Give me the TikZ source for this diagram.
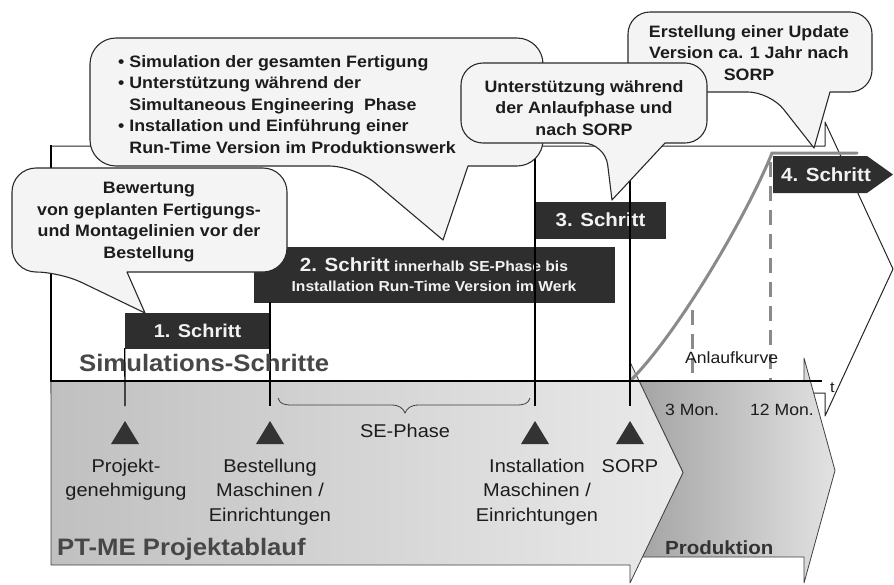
\documentclass[tikz,border=0pt]{standalone}
\usepackage{fontspec}
\setmainfont{Liberation Sans}[FakeStretch=1.08]
\definecolor{outl}{HTML}{2A2A2A}
\definecolor{callfill}{HTML}{F4F4F4}
\definecolor{boxc}{HTML}{2E2E2E}
\definecolor{boxtxt}{HTML}{F2F2F2}
\definecolor{txtdark}{HTML}{1C1C1C}
\definecolor{trifill}{HTML}{333333}
\definecolor{ptL}{HTML}{C0C0C0}
\definecolor{ptR}{HTML}{EAEAEA}
\definecolor{prodL}{HTML}{A4A4A4}
\definecolor{prodR}{HTML}{E2E2E2}
\definecolor{curvec}{HTML}{8A8A8A}
\definecolor{titlegray}{HTML}{474747}
\newcommand{\myfs}[2]{\fontsize{#1}{#2}\selectfont}
\begin{document}
\begin{tikzpicture}[x=1pt,y=-1pt,
  callout/.style={draw=outl, fill=callfill, line width=1.1pt, line join=round},
  ctext/.style={inner sep=0pt, anchor=north, align=center, text=txtdark, font=\bfseries\myfs{16.5}{21.5}},
  darkbox/.style={fill=boxc, draw=boxc, inner sep=0pt, text=boxtxt, font=\bfseries\myfs{19}{22}},
  marker/.style={fill=trifill},
  lbl/.style={inner sep=0pt, anchor=north, align=center, text=txtdark, font=\myfs{18.5}{24.3}},
  small/.style={inner sep=0pt, anchor=base west, text=txtdark, font=\myfs{16.3}{19}},
  vline/.style={draw=black, line width=1.3pt},
  dashc/.style={draw=curvec, line width=3pt, dash pattern=on 15pt off 9pt},
  bigtitle/.style={inner sep=0pt, anchor=base west, text=titlegray, font=\bfseries\myfs{23.8}{26}}
]
\useasboundingbox (0,0) rectangle (894,584);

% upper white chevron frame
\draw[fill=white, draw=black!85, line width=1pt, line join=round]
  (51,146) -- (825,146) -- (825,122) -- (893,269) -- (825,416) -- (825,393) -- (51,393) -- cycle;
\draw[line width=2pt] (51,145) -- (51,382);

% Produktion arrow
\shadedraw[left color=prodL, right color=prodR, draw=black!75, line width=0.8pt, line join=round]
  (639,381) -- (804,381) -- (804,358) -- (835,470.5) -- (804,583) -- (804,557) -- (642,557) -- (683,472.5) -- cycle;
% PT-ME arrow
\shadedraw[left color=ptL, right color=ptR, draw=black!75, line width=0.8pt, line join=round]
  (51,381) -- (630,381) -- (630,362) -- (683,472.5) -- (630,583) -- (630,565) -- (51,565) -- cycle;

% Anlaufkurve
\draw[draw=curvec, line width=3pt, line cap=round]
  (632,379) .. controls (680,330) and (748,213) .. (772,153) -- (857,153);
\draw[dashc] (692,310) -- (692,381);
\draw[dashc] (770,162) -- (770,381);

% axis
\draw[line width=2.5pt] (51,381) -- (822,381);
\node[small, font=\myfs{15}{18}] (tlabel) at (830,392) {t};

% step boxes
\node[darkbox, minimum width=145pt, minimum height=35pt, font=\bfseries\myfs{18.5}{22}] (box1) at (197.5,330.5) {1. Schritt};
\node[darkbox, minimum width=360pt, minimum height=55pt, align=center, font=\bfseries\myfs{14.5}{20}] (box2) at (434,274.5)
  {{\myfs{19}{20}2. Schritt} innerhalb SE-Phase bis\\Installation Run-Time Version im Werk};
\node[darkbox, minimum width=129pt, minimum height=36pt] (box3) at (600.5,220) {3. Schritt};
\fill[boxc] (773,156) -- (867,156) -- (893,174.5) -- (867,193) -- (773,193) -- cycle;
\node[darkbox, fill=none, draw=none] (box4) at (826,175) {4. Schritt};

% milestone lines
\coordinate (m1) at (125,406);
\coordinate (m2t) at (270,302);
\coordinate (m2) at (270,406);
\coordinate (m3t) at (535,146);
\coordinate (m3) at (535,406);
\coordinate (m4t) at (630,146);
\coordinate (m4) at (630,406);
\draw[vline] (box1.south west) -- (m1);
\draw[vline] (m2t) -- (m2);
\draw[vline] (m3t) -- (m3);
\draw[vline] (m4t) -- (m4);

% triangles
\fill[marker] (111,444) -- (125,421) -- (139,444) -- cycle;
\fill[marker] (256,444) -- (270,421) -- (284,444) -- cycle;
\fill[marker] (521,444) -- (535,421) -- (549,444) -- cycle;
\fill[marker] (616,444) -- (630,421) -- (644,444) -- cycle;

% SE-Phase brace (pointing down)
\draw[draw=black!75, line width=0.8pt]
  (278,398) .. controls (280,404) and (284,405) .. (292,405) -- (391,405)
  .. controls (399,405) and (403,408) .. (405,413)
  .. controls (407,408) and (411,405) .. (419,405) -- (516,405)
  .. controls (524,405) and (528,404) .. (530,398);
\node[small, anchor=base, font=\myfs{18.5}{22}] (sephase) at (405,437) {SE-Phase};

% milestone labels
\node[lbl] (lproj) at (126,459) {Projekt-\\genehmigung};
\node[lbl] (lbest) at (270,459) {Bestellung\\Maschinen /\\Einrichtungen};
\node[lbl] (linst) at (537,459) {Installation\\Maschinen /\\Einrichtungen};
\node[lbl] (lsorp) at (630,459) {SORP};

% month labels
\node[small] (mon3) at (665,415) {3 Mon.};
\node[small] (mon12) at (750,415) {12 Mon.};
\node[small] (anlauf) at (685,363) {Anlaufkurve};

% titles
\node[bigtitle] (simtitle) at (79,371) {Simulations-Schritte};
\node[bigtitle] (pttitle) at (57,555) {PT-ME Projektablauf};
\node[bigtitle, text=black!80, font=\bfseries\myfs{19}{22}] (prodtitle) at (665,554) {Produktion};

% callouts
\draw[callout] (814,148) -- (830,92) [rounded corners=22] -- (872,92) -- (872,12) -- (628,12) -- (628,92) -- (770,92) [sharp corners] -- cycle;
\node[ctext] (call4) at (749,25) {Erstellung einer Update\\Version ca. 1 Jahr nach\\SORP};

\draw[callout] (443,240) -- (468,166) [rounded corners=26] -- (543,166) -- (543,38) -- (90,38) -- (90,166) -- (355,166) [sharp corners] -- cycle;
\node[ctext, anchor=north west, align=left] (call2) at (118,55)
  {• Simulation der gesamten Fertigung\\
   • Unterstützung während der\\
   \hphantom{• }Simultaneous Engineering\ \ Phase\\
   • Installation und Einführung einer\\
   \hphantom{• }Run-Time Version im Produktionswerk};

\draw[callout] (612,200) -- (665,143) [rounded corners=22] -- (707,143) -- (707,63) -- (461,63) -- (461,143) -- (605,143) [sharp corners] -- cycle;
\node[ctext] (call3) at (584,80) {Unterstützung während\\der Anlaufphase und\\nach SORP};

\draw[callout] (145,313) -- (127,272) [rounded corners=24] -- (287,272) -- (287,168) -- (12,168) -- (12,272) -- (60,272) [sharp corners] -- cycle;
\node[ctext] (call1) at (149,182) {Bewertung\\von geplanten Fertigungs-\\und Montagelinien vor der\\Bestellung};
\end{tikzpicture}
\end{document}
